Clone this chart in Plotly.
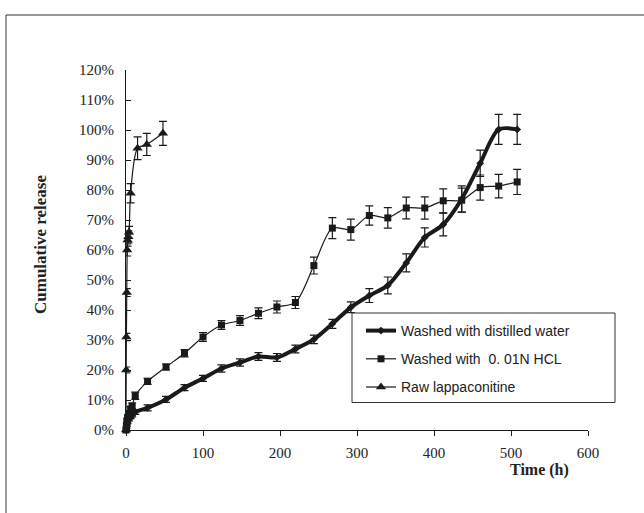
import plotly.graph_objects as go

# ---- data ----
t_washed = [0, 0.5, 1, 2, 4, 6, 8, 12, 28, 52, 76, 100, 124, 148, 172, 196, 220, 244,
            268, 292, 316, 340, 364, 388, 412, 436, 460, 484, 508]
water = [0, 1.0, 1.8, 2.6, 3.5, 4.3, 5.0, 6.0, 7.4, 10.2, 14.1, 17.2, 20.5, 22.5, 24.5,
         24.2, 27.0, 30.2, 35.4, 40.9, 44.8, 48.2, 55.7, 64.2, 68.5, 77.0, 88.9, 100.2, 100.2]
water_err = [0, 0.5, 0.5, 0.5, 0.5, 0.5, 0.6, 0.8, 1.0, 1.0, 1.0, 1.0, 1.2, 1.2, 1.3,
             1.3, 1.3, 1.4, 1.5, 1.8, 2.3, 2.8, 3.0, 3.2, 3.8, 4.4, 4.4, 5.0, 5.0]
hcl = [0, 1.5, 3.0, 4.2, 5.5, 7.0, 8.0, 11.4, 16.2, 21.0, 25.6, 31.0, 35.0, 36.5, 38.9,
       41.0, 42.5, 54.8, 67.3, 66.8, 71.5, 70.7, 74.0, 74.0, 76.4, 76.6, 80.8, 81.3, 82.7]
hcl_err = [0, 0.5, 0.5, 0.6, 0.7, 0.8, 1.0, 1.2, 1.0, 1.0, 1.2, 1.5, 1.5, 1.6, 1.8,
           2.0, 2.0, 2.8, 3.5, 3.5, 3.2, 3.4, 3.6, 3.7, 4.0, 4.0, 4.2, 3.9, 4.2]
t_raw = [0, 0.25, 0.5, 1, 1.5, 2, 3, 4, 6, 15, 27, 48]
raw = [0, 20.0, 31.0, 45.8, 60.0, 63.3, 64.4, 65.9, 78.9, 93.9, 95.2, 98.9]
raw_err = [0, 1.0, 1.2, 1.3, 2.0, 2.0, 2.0, 2.0, 3.2, 3.8, 3.7, 4.0]

names = ["Washed with distilled water", "Washed with  0. 01N HCL", "Raw lappaconitine"]
y_ticks = list(range(0, 121, 10))
y_tick_text = [f"{v}%" for v in y_ticks]
x_ticks = list(range(0, 601, 100))

INK = "#1a1a1a"

fig = go.Figure()
fig.add_trace(go.Scatter(
    x=t_washed, y=water, name=names[0], mode="lines+markers", legendgroup="a",
    line=dict(color=INK, width=4, shape="spline", smoothing=0.8),
    marker=dict(symbol="diamond", size=6, color=INK),
    error_y=dict(type="data", array=water_err, color=INK, thickness=1.2, width=4),
    cliponaxis=False))
fig.add_trace(go.Scatter(
    x=t_washed, y=hcl, name=names[1], mode="lines+markers", legendgroup="b",
    line=dict(color=INK, width=1.2, shape="spline", smoothing=0.8),
    marker=dict(symbol="square", size=7, color=INK),
    error_y=dict(type="data", array=hcl_err, color=INK, thickness=1.2, width=4),
    cliponaxis=False))
fig.add_trace(go.Scatter(
    x=t_raw, y=raw, name=names[2], mode="lines+markers", legendgroup="c",
    line=dict(color=INK, width=1.2, shape="spline", smoothing=0.8),
    marker=dict(symbol="triangle-up", size=9, color=INK),
    error_y=dict(type="data", array=raw_err, color=INK, thickness=1.2, width=4),
    cliponaxis=False))

L, R, T, B = 126, 56, 70, 83
W, H = 644, 513
pw, ph = W - L - R, H - T - B

def px(xp):
    return (xp - L) / pw

def py(yp):
    return (H - B - yp) / ph

serif = "Liberation Serif, Times New Roman, serif"
sans = "Liberation Sans, Arial, sans-serif"

fig.update_layout(
    width=W, height=H, margin=dict(l=L, r=R, t=T, b=B),
    paper_bgcolor="white", plot_bgcolor="white",
    font=dict(family=serif, size=14, color="#222"),
    xaxis=dict(range=[0, 600], tickvals=x_ticks, ticks="outside", ticklen=5,
               tickcolor=INK, showline=True, linecolor=INK, linewidth=1,
               showgrid=False, zeroline=False, tickfont=dict(family=serif, size=15),
               ticklabelstandoff=4),
    yaxis=dict(range=[0, 120], tickvals=y_ticks, ticktext=y_tick_text, ticks="inside",
               ticklen=5, tickcolor=INK, showline=True, linecolor=INK, linewidth=1,
               showgrid=False, zeroline=False, tickfont=dict(family=serif, size=15),
               ticklabelstandoff=8),
    showlegend=True,
    legend=dict(x=px(361), y=py(315), xanchor="left", yanchor="top",
                bgcolor="rgba(0,0,0,0)", borderwidth=0,
                font=dict(family=sans, size=14, color="#222"),
                tracegroupgap=7, itemwidth=30),
    shapes=[
        dict(type="rect", xref="paper", yref="paper",
             x0=px(6), y0=py(700), x1=px(900), y1=py(15),
             line=dict(color="#333", width=1), fillcolor="rgba(0,0,0,0)", layer="below"),
        dict(type="rect", xref="paper", yref="paper",
             x0=px(352), y0=py(402.5), x1=px(615), y1=py(313),
             line=dict(color="#333", width=1), fillcolor="white", layer="above"),
    ],
    annotations=[
        dict(text="<b>Cumulative release</b>", xref="paper", yref="paper",
             x=px(40), y=py(245), textangle=-90, showarrow=False,
             font=dict(family=serif, size=17, color="#222"), xanchor="center", yanchor="middle"),
        dict(text="<b>Time (h)</b>", xref="paper", yref="paper",
             x=px(539), y=py(470), showarrow=False,
             font=dict(family=serif, size=16, color="#222"), xanchor="center", yanchor="middle"),
    ],
)

fig.write_html("out.html")
